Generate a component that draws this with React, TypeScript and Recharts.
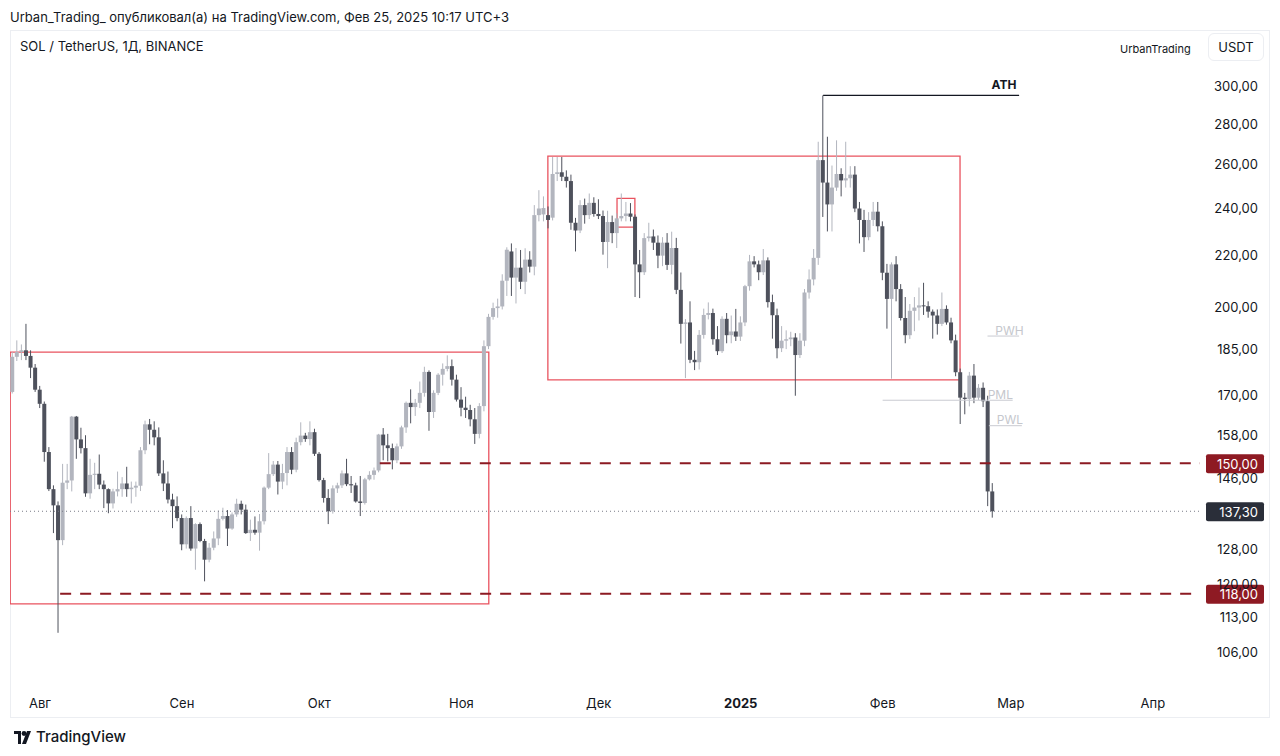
import React from 'react';
import { ComposedChart, Bar, XAxis, YAxis, ReferenceArea, ReferenceLine, ReferenceDot } from 'recharts';

// Daily candles from 2024-07-26 (day offset -6 relative to Aug 1) to 2025-02-25
const FIRST_DAY_OFFSET = -6;

const opens = [
  // Jul 26-31
  171, 182.4, 184, 184.6, 182.7, 178.8,
  // Aug
  171.7, 167.3, 153.1, 143, 138.8, 130.2, 144.7, 145.3, 163.4, 156.7, 154.2, 141.9, 146.8, 147.1, 144.2, 143,
  139.3, 142.4, 143, 144.5, 143, 143.4, 143.9, 153.6, 161.1, 159.5, 157.3, 147.2, 144.5, 140.3, 138.6,
  // Sep
  135.6, 129.2, 135.6, 128.2, 134.1, 130, 125.6, 128.4, 130.6, 135.4, 136.1, 133, 136.5, 139.2, 137.7,
  131.9, 132.7, 132, 134.8, 143.4, 147, 149.6, 145, 147.3, 153.1, 148.2, 155.9, 157.8, 156.8, 158.8,
  // Oct
  152.6, 145.4, 140.7, 137.3, 143.2, 144, 147.2, 144.3, 144, 139.8, 139.4, 145.6, 146.8, 148, 158.1, 155,
  154.2, 150.8, 154.7, 160.2, 167.6, 166.3, 167.6, 170.7, 177.4, 164.8, 170.7, 176.5, 178.4, 179.3, 174.9,
  // Nov
  168.6, 166.1, 165.4, 162.6, 158.3, 166.6, 186, 196.3, 199.5, 200.1, 209.8, 221.4, 211, 214.9, 209.4,
  218.1, 215.3, 236.7, 237, 236.7, 235.6, 255.3, 256.1, 254, 252, 233.4, 230.1, 241.1, 236.7, 242.1,
  // Dec
  237.2, 236.3, 225.3, 233.7, 229, 235.3, 236.3, 237.4, 236, 216.2, 213.1, 226.9, 227.6, 225, 219.7, 225,
  216, 222.8, 206.3, 193.8, 194.3, 181.4, 180.6, 189.9, 197, 197.7, 188.4, 184.3, 195.6, 189.8, 191.1,
  // Jan
  189.3, 194.3, 207.7, 217.4, 216.2, 213.1, 217.8, 201.7, 196.9, 185.3, 187.9, 188.4, 189, 183, 187.9, 205.3,
  210.3, 218.8, 261.9, 251.3, 241.4, 249, 255.3, 252.3, 253.3, 255, 239.6, 234.6, 227.3, 234.6, 238.2,
  // Feb
  231.9, 212.9, 202.9, 216.2, 206.6, 195.9, 189.8, 198.5, 199.7, 200.5, 200.2, 198.2, 196.8, 193.8, 199.2,
  194.3, 188, 177.3, 169.2, 168.8, 176.2, 169.2, 172.3, 168.1, 142.4,
];

const highs = [
  184, 188, 186.6, 193.8, 184.6, 180,
  172.9, 168, 154.5, 144, 139.8, 149.8, 149.8, 163.6, 163.6, 160.1, 157.9, 151.2, 150.1, 152.4, 145.3, 143.2,
  143.1, 147.7, 146.2, 149, 145, 145, 154.5, 162.2, 162.7, 162, 160.2, 150.8, 147.7, 141.8, 141.1,
  136.5, 136, 138.6, 134.3, 134.5, 130.5, 129.5, 132.3, 137.5, 138.2, 137.6, 137, 140.5, 140, 139,
  135.2, 136, 136.6, 143.7, 152.8, 150.6, 150.6, 149.8, 154.5, 154.5, 157.2, 161.7, 158.6, 162, 159.8,
  153.1, 146, 143, 144, 144.7, 148, 151.2, 146.5, 144.7, 146.5, 146, 147.8, 148.8, 158.3, 160, 158.3,
  155.5, 155.5, 160.7, 168, 171.8, 168.8, 174.3, 179.1, 177.9, 171.5, 177, 180.2, 182.9, 181.5, 176.5,
  172.5, 169.5, 167, 166, 167.5, 188, 197.4, 201.5, 203, 212.3, 223.1, 224.7, 222.8, 222, 222.7,
  221.5, 241.1, 247.8, 245, 240.5, 263.4, 263.4, 263.4, 257, 255, 235.5, 243.3, 244, 246.3, 244.6,
  243.7, 238.7, 238.6, 236.5, 237.5, 246.3, 242.5, 242, 237, 222, 229, 233.4, 230.5, 228, 227.3, 229,
  229.6, 227, 213, 195.5, 202, 184.4, 191.6, 199.3, 201.6, 199.3, 193, 196.5, 197.7, 196.8, 199.2,
  196.5, 208.2, 220, 219.5, 217.7, 222.4, 219, 204.5, 199.3, 193, 191.5, 191, 190.5, 190.5, 206.6, 214.2,
  222.4, 270.9, 295, 273.4, 259.3, 271.6, 258, 270.9, 259, 259, 242.5, 239, 238, 242.5, 242.5,
  234, 216.4, 217, 219.5, 208.5, 203.6, 201, 203.6, 207.2, 209, 202, 199, 199, 205.3, 200.5,
  196, 190, 178.5, 170.7, 177.4, 180, 173.5, 174, 169.8, 144.6,
];

const lows = [
  170.5, 181, 181.3, 181.3, 175.4, 171,
  166, 150.4, 142.5, 131.9, 109.8, 129, 143, 142.4, 151.2, 152.7, 141, 140.5, 143, 143, 138.1, 136.8,
  138, 141.1, 141, 141, 139.3, 141, 142.5, 152.5, 155.3, 155, 146.5, 142.5, 139.3, 133.1, 134.8,
  127.8, 128.2, 127.7, 123.3, 129.7, 120.7, 125, 127.8, 129, 135, 128.8, 132.7, 135.9, 136.5, 131.7,
  130, 131.5, 127.7, 134, 143, 146.5, 141.6, 143, 144, 147, 147.5, 155, 156, 155, 152,
  145, 139.5, 134.1, 136.7, 142, 143.3, 143.8, 142, 139.5, 136.1, 139, 145.3, 145.5, 147.5, 150.8, 150.5,
  148.3, 150, 154, 158.6, 161.4, 163.6, 166, 169.5, 159.2, 163, 170, 173, 177.6, 173, 168,
  163.5, 163, 160.5, 155.4, 157, 165, 185, 195.3, 196, 199, 204, 204, 201.2, 206.6, 204.7,
  213, 211.9, 234, 234, 231, 234.4, 252, 252, 249, 230.4, 221.4, 229, 233, 235, 236,
  235, 220.1, 214.7, 224.8, 222.8, 234, 234, 234, 203.6, 203.2, 212, 225.5, 222, 214.7, 215.5, 214,
  212.3, 204.7, 186.9, 175.4, 180.3, 178, 178.2, 188.6, 195.4, 186.5, 183, 183.7, 187, 187, 187.8,
  187.8, 193, 206, 215, 210, 212, 199.7, 188.6, 181.9, 184, 185, 186, 169.8, 182, 186, 203,
  208, 216, 235.9, 229.7, 229.7, 247.5, 245, 249, 249, 238, 224.7, 221.2, 226, 232, 229.7,
  210, 192.1, 175.2, 202, 195, 187, 188.5, 191.2, 195, 197, 196, 188.6, 190, 193, 193.5,
  187, 176, 161.2, 164.1, 166.5, 167.5, 168.5, 166.3, 138.6, 135.7,
];

const closes = [
  182.4, 184, 184.6, 182.7, 178.8, 171.7,
  167.3, 153.1, 143, 138.8, 130.2, 144.7, 145.3, 163.4, 156.7, 154.2, 141.9, 146.8, 147.1, 144.2, 143, 139.3,
  142.4, 143, 144.5, 143, 143.4, 143.9, 153.6, 161.1, 159.5, 157.3, 147.2, 144.5, 140.3, 138.6, 135.6,
  129.2, 135.6, 128.2, 134.1, 130, 125.6, 128.4, 130.6, 135.4, 136.1, 133, 136.5, 139.2, 137.7, 131.9,
  132.7, 132, 134.8, 143.4, 147, 149.6, 145, 147.3, 153.1, 148.2, 155.9, 157.8, 156.8, 158.8, 152.6,
  145.4, 140.7, 137.3, 143.2, 144, 147.2, 144.3, 144, 139.8, 139.4, 145.6, 146.8, 148, 158.1, 155, 154.2,
  150.8, 154.7, 160.2, 167.6, 166.3, 167.6, 170.7, 177.4, 164.8, 170.7, 176.5, 178.4, 179.3, 174.9, 168.6,
  166.1, 165.4, 162.6, 158.3, 166.6, 186, 196.3, 199.5, 200.1, 209.8, 222.1, 211, 214.9, 209.4, 218.1,
  215.3, 236.7, 239.6, 239.8, 234.6, 255.3, 256.1, 254, 252, 233.4, 230.1, 241.1, 236.7, 242.1, 237.2,
  236.3, 225.3, 233.7, 229, 235.3, 236.3, 237.4, 236, 216.2, 213.1, 226.9, 227.6, 225, 219.7, 225, 216,
  222.8, 206.3, 193.8, 194.3, 181.4, 180.6, 189.9, 197, 197.7, 188.4, 184.3, 195.6, 189.8, 191.1, 189.3,
  194.3, 207.7, 217.4, 216.2, 213.1, 217.8, 201.7, 196.9, 185.3, 187.9, 188.4, 189, 183, 187.9, 205.3, 210.3,
  218.8, 261.9, 251.3, 241.4, 249, 255.3, 252.3, 253.3, 255, 239.6, 234.6, 227.3, 234.6, 238.2, 231.9,
  212.9, 202.9, 216.2, 206.6, 195.9, 189.8, 198.5, 199.7, 200.5, 200.2, 198.2, 196.8, 193.8, 199.2, 194.3,
  188, 177.3, 169.2, 168.8, 176.2, 169.2, 172.3, 168.1, 142.4, 137.3,
];

// month starts as day offsets from Aug 1, 2024
const monthTicks = [0, 31, 61, 92, 122, 153, 184, 212, 243];
const monthLabels = ['Авг', 'Сен', 'Окт', 'Ноя', 'Дек', '2025', 'Фев', 'Мар', 'Апр'];
const priceTicks = [106, 113, 120, 128, 146, 158, 170, 185, 200, 220, 240, 260, 280, 300];

const X_DOMAIN: [number, number] = [-6.55, 253.3];
const Y_DOMAIN: [number, number] = [99.2, 332.7];

const UP = '#b2b5be';
const DOWN = '#4e515c';
const BOX = '#e9535f';
const LEVEL = '#8c1a22';
const FONT = 'Inter, "Noto Sans", "DejaVu Sans", sans-serif';

const data = opens.map((o, i) => ({
  d: i + FIRST_DAY_OFFSET,
  open: o,
  high: highs[i],
  low: lows[i],
  close: closes[i],
  range: [lows[i], highs[i]],
}));

const fmt = (v: number) => v.toFixed(2).replace('.', ',');

const Candle = (props: any) => {
  const { x, y, width, height, payload } = props;
  if (!payload || x == null || y == null) return null;
  const top = Math.min(y, y + height);
  const h = Math.abs(height);
  const lh = Math.log(payload.high);
  const ll = Math.log(payload.low);
  const toY = (v: number) => (lh === ll ? top : top + ((lh - Math.log(v)) / (lh - ll)) * h);
  const yo = toY(payload.open);
  const yc = toY(payload.close);
  const bTop = Math.min(yo, yc);
  const bH = Math.max(1, Math.abs(yc - yo));
  const color = payload.close >= payload.open ? UP : DOWN;
  const cx = x + width / 2;
  return (
    <g>
      <line x1={cx} x2={cx} y1={top} y2={top + h} stroke={color} strokeWidth={1} />
      <rect x={x} y={bTop} width={width} height={bH} fill={color} />
    </g>
  );
};

const XTick = (props: any) => {
  const { x, payload } = props;
  const idx = monthTicks.indexOf(payload.value);
  const label = idx >= 0 ? monthLabels[idx] : '';
  return (
    <text x={x} y={673} textAnchor="middle" dominantBaseline="central" fontSize={13}
      fontFamily={FONT} fill="#131722" fontWeight={label === '2025' ? 700 : 400}>
      {label}
    </text>
  );
};

const YTick = (props: any) => {
  const { y, payload } = props;
  return (
    <text x={1248} y={y} textAnchor="end" dominantBaseline="central" fontSize={13}
      fontFamily={FONT} fill="#131722">
      {fmt(payload.value)}
    </text>
  );
};

const badge = (value: number, bg: string) => (p: any) => (
  <g>
    <rect x={p.cx + 6} y={p.cy - 9} width={58} height={19} rx={2} fill={bg} />
    <text x={p.cx + 58} y={p.cy + 0.5} textAnchor="end" dominantBaseline="central" fontSize={13}
      fontFamily={FONT} fill="#ffffff">
      {fmt(value)}
    </text>
  </g>
);

const tag = (text: string, color: string, dy: number, weight = 400, anchor: 'middle' | 'end' = 'middle') => (p: any) => (
  <text x={p.cx} y={p.cy + dy} textAnchor={anchor} fontSize={12} fontFamily={FONT}
    fill={color} fontWeight={weight}>
    {text}
  </text>
);

const TvLogo = () => (
  <svg width={20} height={14} viewBox="0 0 20 14" style={{ position: 'absolute', left: 14, top: 731 }}>
    <path d="M0 0 H7 V13 H4 V3 H0 Z" fill="#131722" />
    <circle cx={10} cy={2.5} r={2.4} fill="#131722" />
    <path d="M13 0 H17 L12 13 H8 Z" fill="#131722" />
  </svg>
);

export default function App() {
  return (
    <div style={{ position: 'absolute', left: 0, top: 0, width: 1280, height: 756, background: '#ffffff', fontFamily: FONT, color: '#131722' }}>
      <div style={{ position: 'absolute', left: 10, top: 8, fontSize: 13, lineHeight: '18px', whiteSpace: 'nowrap' }}>
        Urban_Trading_ опубликовал(а) на TradingView.com, Фев 25, 2025 10:17 UTC+3
      </div>
      <div style={{ position: 'absolute', left: 10, top: 30, width: 1258, height: 686, border: '1px solid #eceef2' }} />
      <div style={{ position: 'absolute', left: 10, top: 30 }}>
        <ComposedChart width={1260} height={688} data={data} margin={{ top: 0, right: 0, bottom: 0, left: 0 }}>
          <XAxis type="number" dataKey="d" domain={X_DOMAIN} allowDataOverflow ticks={monthTicks}
            axisLine={false} tickLine={false} height={30} tick={<XTick />} interval={0} />
          <YAxis orientation="right" scale="log" domain={Y_DOMAIN} allowDataOverflow ticks={priceTicks}
            axisLine={false} tickLine={false} width={70} tick={<YTick />} interval={0} />
          <ReferenceArea x1={X_DOMAIN[0] + 0.05} x2={98} y1={115.8} y2={184} fill="none" stroke={BOX} strokeWidth={1.3} ifOverflow="visible" />
          <ReferenceArea x1={110.9} x2={200.9} y1={174.8} y2={263.8} fill="none" stroke={BOX} strokeWidth={1.3} ifOverflow="visible" />
          <ReferenceArea x1={126} x2={129.9} y1={231.5} y2={244.1} fill="none" stroke={BOX} strokeWidth={1.3} ifOverflow="visible" />
          <ReferenceLine segment={[{ x: X_DOMAIN[0], y: 137.3 }, { x: X_DOMAIN[1], y: 137.3 }]} stroke="#787b86" strokeDasharray="1 3" strokeWidth={1} ifOverflow="visible" />
          <ReferenceLine segment={[{ x: 184, y: 168.4 }, { x: 212.4, y: 168.4 }]} stroke="#c9cbd1" strokeWidth={1} ifOverflow="visible" />
          <ReferenceLine segment={[{ x: 206.9, y: 189.5 }, { x: 213.8, y: 189.5 }]} stroke="#c9cbd1" strokeWidth={1} ifOverflow="visible" />
          <ReferenceLine segment={[{ x: 207.2, y: 160.7 }, { x: 214.4, y: 160.7 }]} stroke="#c9cbd1" strokeWidth={1} ifOverflow="visible" />
          <ReferenceLine segment={[{ x: 171, y: 295 }, { x: 213.8, y: 295 }]} stroke="#131722" strokeWidth={1.2} ifOverflow="visible" />
          <Bar dataKey="range" barSize={4} shape={<Candle />} isAnimationActive={false} />
          <ReferenceLine segment={[{ x: 74.2, y: 150 }, { x: X_DOMAIN[1], y: 150 }]} stroke={LEVEL} strokeWidth={2} strokeDasharray="11 9" ifOverflow="visible" />
          <ReferenceLine segment={[{ x: 4.4, y: 118 }, { x: X_DOMAIN[1], y: 118 }]} stroke={LEVEL} strokeWidth={2} strokeDasharray="11 9" ifOverflow="visible" />
          <ReferenceDot x={213.2} y={295} r={0} ifOverflow="visible" shape={tag('ATH', '#131722', -6, 700, 'end')} />
          <ReferenceDot x={211.7} y={189.5} r={0} ifOverflow="visible" shape={tag('PWH', '#c5c7cd', -1)} />
          <ReferenceDot x={209.7} y={168.4} r={0} ifOverflow="visible" shape={tag('PML', '#c5c7cd', -1)} />
          <ReferenceDot x={211.8} y={160.7} r={0} ifOverflow="visible" shape={tag('PWL', '#c5c7cd', -2)} />
          <ReferenceDot x={X_DOMAIN[1]} y={150} r={0} ifOverflow="visible" shape={badge(150, '#8e1a23')} />
          <ReferenceDot x={X_DOMAIN[1]} y={137.3} r={0} ifOverflow="visible" shape={badge(137.3, '#2a2e39')} />
          <ReferenceDot x={X_DOMAIN[1]} y={118} r={0} ifOverflow="visible" shape={badge(118, '#8e1a23')} />
        </ComposedChart>
      </div>
      <div style={{ position: 'absolute', left: 20, top: 37, fontSize: 13, lineHeight: '18px', whiteSpace: 'nowrap' }}>
        SOL / TetherUS, 1Д, BINANCE
      </div>
      <div style={{ position: 'absolute', left: 1120, top: 42, fontSize: 11, lineHeight: '14px', whiteSpace: 'nowrap' }}>
        UrbanTrading
      </div>
      <div style={{ position: 'absolute', left: 1208, top: 33, width: 56, height: 28, boxSizing: 'border-box', border: '1px solid #eceef2', borderRadius: 6, fontSize: 13, lineHeight: '26px', textAlign: 'center', background: '#fff' }}>
        USDT
      </div>
      <TvLogo />
      <div style={{ position: 'absolute', left: 36, top: 728, fontSize: 15, lineHeight: '18px', fontWeight: 500, whiteSpace: 'nowrap' }}>
        TradingView
      </div>
    </div>
  );
}
